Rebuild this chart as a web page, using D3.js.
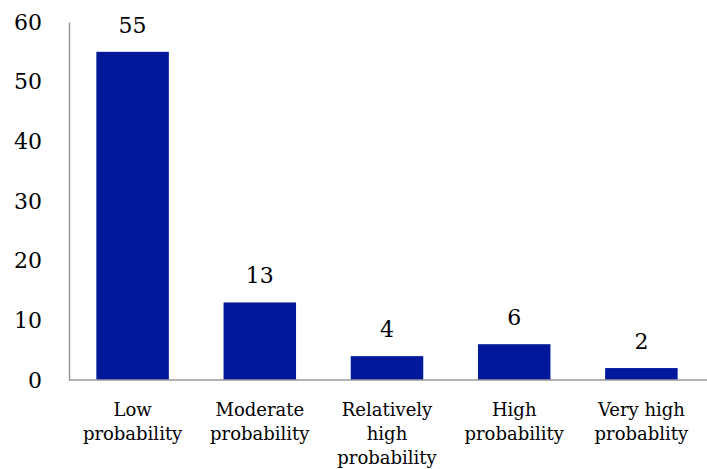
<!DOCTYPE html>
<html>
<head>
<meta charset="utf-8">
<script src="https://cdn.jsdelivr.net/npm/d3@7"></script>
<style>
  html, body { margin: 0; padding: 0; background: #fff; }
  svg { display: block; }
  text { font-family: "DejaVu Serif", "Liberation Serif", serif; fill: #000; }
</style>
</head>
<body>
<svg id="chart" width="707" height="469"></svg>
<script>
// Number of cases per probability class
const categories = [
  ["Low", "probability"],
  ["Moderate", "probability"],
  ["Relatively", "high", "probability"],
  ["High", "probability"],
  ["Very high", "probablity"]
];
const values = [55, 13, 4, 6, 2];
const yTicks = [0, 10, 20, 30, 40, 50, 60];

const svg = d3.select("#chart");
const margin = { left: 69, right: 2, top: 22, bottom: 89 };
const width = 707, height = 469;

const x = d3.scaleBand()
  .domain(d3.range(values.length))
  .range([margin.left, width - margin.right])
  .paddingInner(0.43)
  .paddingOuter(0.215);

const y = d3.scaleLinear()
  .domain([0, 60])
  .range([height - margin.bottom, margin.top]);

// Bars
svg.append("g")
  .selectAll("rect")
  .data(values)
  .join("rect")
  .attr("x", (d, i) => x(i))
  .attr("y", d => y(d))
  .attr("width", x.bandwidth())
  .attr("height", d => y(0) - y(d))
  .attr("fill", "#00199b");

// Value labels above bars
svg.append("g")
  .selectAll("text")
  .data(values)
  .join("text")
  .attr("x", (d, i) => x(i) + x.bandwidth() / 2)
  .attr("y", d => y(d) - 19)
  .attr("text-anchor", "middle")
  .attr("font-size", 22)
  .text(d => d);

// Y axis
const yAxis = svg.append("g")
  .attr("transform", `translate(${margin.left},0)`)
  .call(d3.axisLeft(y).tickValues(yTicks).tickSize(0).tickPadding(27));
yAxis.select(".domain").attr("stroke", "#999").attr("stroke-width", 1.5);
yAxis.selectAll("text")
  .attr("font-size", 22)
  .attr("font-family", "DejaVu Serif, Liberation Serif, serif")
  .attr("fill", "#000");

// X axis baseline
const xAxis = svg.append("g")
  .attr("transform", `translate(0,${y(0)})`)
  .call(d3.axisBottom(x).tickSize(0).tickFormat(""));
xAxis.select(".domain").attr("stroke", "#999").attr("stroke-width", 1.5)
  .attr("d", `M${margin.left},0H${width}`);

// Category labels, one line per tspan
const catG = svg.append("g");
categories.forEach((lines, i) => {
  const t = catG.append("text")
    .attr("x", x(i) + x.bandwidth() / 2)
    .attr("y", y(0) + 36)
    .attr("text-anchor", "middle")
    .attr("font-size", 18);
  lines.forEach((ln, j) => {
    t.append("tspan")
      .attr("x", x(i) + x.bandwidth() / 2)
      .attr("dy", j === 0 ? 0 : 24)
      .text(ln);
  });
});
</script>
</body>
</html>
